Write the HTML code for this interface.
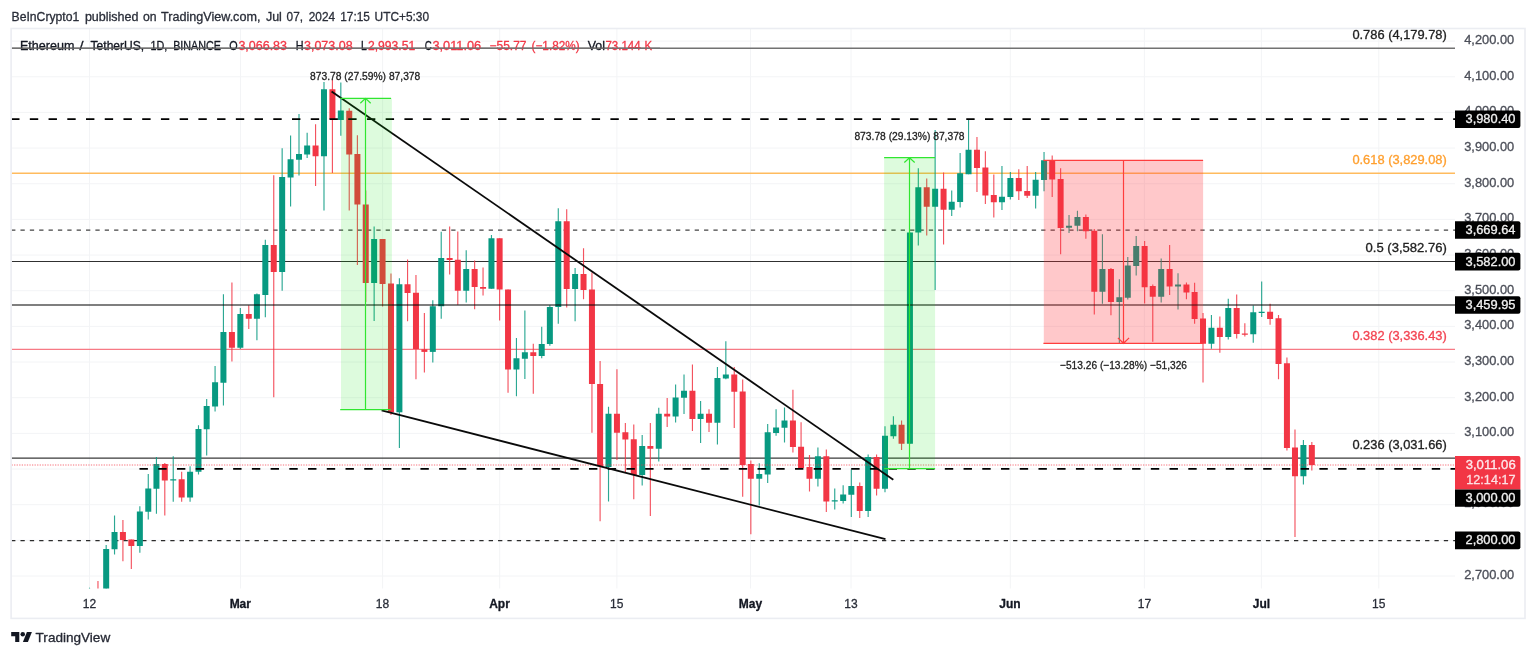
<!DOCTYPE html>
<html lang="en"><head><meta charset="utf-8"><title>ETHUSDT 1D chart</title>
<style>html,body{margin:0;padding:0;background:#fff;}body{width:1536px;height:656px;overflow:hidden;font-family:"Liberation Sans", "DejaVu Sans", sans-serif;}svg{display:block}text{white-space:pre;stroke-width:0.3px;stroke-linejoin:round}</style>
</head><body>
<svg width="1536" height="656" viewBox="0 0 1536 656" font-family='"Liberation Sans", "DejaVu Sans", sans-serif'>
<rect width="1536" height="656" fill="#fff"/>
<defs><clipPath id="plot"><rect x="11.5" y="28.5" width="1443.5" height="560"/></clipPath></defs>
<g id="grid" stroke="#f3f4f6" stroke-width="1">
<line x1="11.5" x2="1455.0" y1="576" y2="576"/>
<line x1="11.5" x2="1455.0" y1="540.34" y2="540.34"/>
<line x1="11.5" x2="1455.0" y1="504.68" y2="504.68"/>
<line x1="11.5" x2="1455.0" y1="469.02" y2="469.02"/>
<line x1="11.5" x2="1455.0" y1="433.36" y2="433.36"/>
<line x1="11.5" x2="1455.0" y1="397.7" y2="397.7"/>
<line x1="11.5" x2="1455.0" y1="362.04" y2="362.04"/>
<line x1="11.5" x2="1455.0" y1="326.38" y2="326.38"/>
<line x1="11.5" x2="1455.0" y1="290.72" y2="290.72"/>
<line x1="11.5" x2="1455.0" y1="255.06" y2="255.06"/>
<line x1="11.5" x2="1455.0" y1="219.4" y2="219.4"/>
<line x1="11.5" x2="1455.0" y1="183.74" y2="183.74"/>
<line x1="11.5" x2="1455.0" y1="148.08" y2="148.08"/>
<line x1="11.5" x2="1455.0" y1="112.42" y2="112.42"/>
<line x1="11.5" x2="1455.0" y1="76.76" y2="76.76"/>
<line x1="11.5" x2="1455.0" y1="41.1" y2="41.1"/>
<line x1="89.5" x2="89.5" y1="28.5" y2="588.5"/>
<line x1="240.5" x2="240.5" y1="28.5" y2="588.5"/>
<line x1="382.6" x2="382.6" y1="28.5" y2="588.5"/>
<line x1="499.7" x2="499.7" y1="28.5" y2="588.5"/>
<line x1="616.9" x2="616.9" y1="28.5" y2="588.5"/>
<line x1="750.5" x2="750.5" y1="28.5" y2="588.5"/>
<line x1="851" x2="851" y1="28.5" y2="588.5"/>
<line x1="1010.3" x2="1010.3" y1="28.5" y2="588.5"/>
<line x1="1144.4" x2="1144.4" y1="28.5" y2="588.5"/>
<line x1="1261.4" x2="1261.4" y1="28.5" y2="588.5"/>
<line x1="1378.8" x2="1378.8" y1="28.5" y2="588.5"/>
</g>
<g id="levels" clip-path="url(#plot)" fill="none">
<line x1="11.5" x2="1455.0" y1="48.15" y2="48.15" stroke="#727272" stroke-width="1.5"/>
<line x1="11.5" x2="1455.0" y1="173.3" y2="173.3" stroke="#ffbb5e" stroke-width="1.4"/>
<line x1="11.5" x2="1455.0" y1="261.5" y2="261.5" stroke="#303030" stroke-width="1.0"/>
<line x1="11.5" x2="1455.0" y1="349.4" y2="349.4" stroke="#f77a85" stroke-width="1.35"/>
<line x1="11.5" x2="1455.0" y1="458.08" y2="458.08" stroke="#3a3a3a" stroke-width="1.25"/>
<line x1="11.1" x2="1455.0" y1="230.1" y2="230.1" stroke="#444" stroke-width="1.2" stroke-dasharray="4.3 5.0642"/>
<line x1="11.1" x2="1455.0" y1="540.6" y2="540.6" stroke="#2b2b2b" stroke-width="1.15" stroke-dasharray="4.3 5.0642"/>
</g>
<g id="candles" clip-path="url(#plot)">
<path d="M89.52 587.7V600" stroke="#089981" stroke-width="1.15" opacity="0.85"/><rect x="86.52" y="590.6" width="6" height="9.4" fill="#089981"/>
<path d="M97.97 581V600" stroke="#f23645" stroke-width="1.15" opacity="0.85"/><rect x="94.97" y="590.6" width="6" height="6.4" fill="#f23645"/>
<path d="M106.18 545V600" stroke="#089981" stroke-width="1.15" opacity="0.85"/><rect x="103.18" y="549" width="6" height="51" fill="#089981"/>
<path d="M114.53 515.5V554.5" stroke="#089981" stroke-width="1.15" opacity="0.85"/><rect x="111.53" y="532" width="6" height="17.25" fill="#089981"/>
<path d="M122.91 520V561.25" stroke="#f23645" stroke-width="1.15" opacity="0.85"/><rect x="119.91" y="532" width="6" height="8" fill="#f23645"/>
<path d="M131.33 539.5V569" stroke="#f23645" stroke-width="1.15" opacity="0.85"/><rect x="128.33" y="539.5" width="6" height="6.5" fill="#f23645"/>
<path d="M139.85 506.25V552.75" stroke="#089981" stroke-width="1.15" opacity="0.85"/><rect x="136.85" y="511.5" width="6" height="34.5" fill="#089981"/>
<path d="M148.27 474V519.5" stroke="#089981" stroke-width="1.15" opacity="0.85"/><rect x="145.27" y="488.5" width="6" height="23.25" fill="#089981"/>
<path d="M156.44 457V513.75" stroke="#089981" stroke-width="1.15" opacity="0.85"/><rect x="153.44" y="464" width="6" height="24.75" fill="#089981"/>
<path d="M164.79 463V515.5" stroke="#f23645" stroke-width="1.15" opacity="0.85"/><rect x="161.79" y="464" width="6" height="16.5" fill="#f23645"/>
<path d="M173.24 456.25V501.75" stroke="#089981" stroke-width="1.15" opacity="0.85"/><rect x="170.24" y="479.25" width="6" height="1.25" fill="#089981"/>
<path d="M181.66 471.75V501.75" stroke="#f23645" stroke-width="1.15" opacity="0.85"/><rect x="178.66" y="479.25" width="6" height="18.25" fill="#f23645"/>
<path d="M190.08 466.25V501.75" stroke="#089981" stroke-width="1.15" opacity="0.85"/><rect x="187.08" y="471.75" width="6" height="25.75" fill="#089981"/>
<path d="M198.49 425.25V474.5" stroke="#089981" stroke-width="1.15" opacity="0.85"/><rect x="195.49" y="429" width="6" height="42.75" fill="#089981"/>
<path d="M206.67 399V455.5" stroke="#089981" stroke-width="1.15" opacity="0.85"/><rect x="203.67" y="406" width="6" height="23.25" fill="#089981"/>
<path d="M215.08 366V411.5" stroke="#089981" stroke-width="1.15" opacity="0.85"/><rect x="212.08" y="382.25" width="6" height="24.25" fill="#089981"/>
<path d="M223.43 294.25V405.5" stroke="#089981" stroke-width="1.15" opacity="0.85"/><rect x="220.43" y="332" width="6" height="50.75" fill="#089981"/>
<path d="M231.92 282.5V361.5" stroke="#f23645" stroke-width="1.15" opacity="0.85"/><rect x="228.92" y="332" width="6" height="15.75" fill="#f23645"/>
<path d="M240.34 308V349" stroke="#089981" stroke-width="1.15" opacity="0.85"/><rect x="237.34" y="314" width="6" height="33.75" fill="#089981"/>
<path d="M248.76 305.25V329" stroke="#f23645" stroke-width="1.15" opacity="0.85"/><rect x="245.76" y="314" width="6" height="4.75" fill="#f23645"/>
<path d="M256.91 293.5V340.25" stroke="#089981" stroke-width="1.15" opacity="0.85"/><rect x="253.91" y="294.25" width="6" height="24.5" fill="#089981"/>
<path d="M265.33 239.75V317.25" stroke="#089981" stroke-width="1.15" opacity="0.85"/><rect x="262.33" y="245" width="6" height="50" fill="#089981"/>
<path d="M273.75 175.25V397.25" stroke="#f23645" stroke-width="1.15" opacity="0.85"/><rect x="270.75" y="245" width="6" height="27" fill="#f23645"/>
<path d="M282.16 148.25V290.75" stroke="#089981" stroke-width="1.15" opacity="0.85"/><rect x="279.16" y="177" width="6" height="95" fill="#089981"/>
<path d="M290.58 135.5V206.5" stroke="#089981" stroke-width="1.15" opacity="0.85"/><rect x="287.58" y="159.25" width="6" height="18.25" fill="#089981"/>
<path d="M299 114V175.5" stroke="#089981" stroke-width="1.15" opacity="0.85"/><rect x="296" y="154" width="6" height="5.75" fill="#089981"/>
<path d="M307.15 132.75V158" stroke="#089981" stroke-width="1.15" opacity="0.85"/><rect x="304.15" y="145.5" width="6" height="9" fill="#089981"/>
<path d="M315.57 124.25V186" stroke="#f23645" stroke-width="1.15" opacity="0.85"/><rect x="312.57" y="145.5" width="6" height="10.75" fill="#f23645"/>
<path d="M323.99 82V210.5" stroke="#089981" stroke-width="1.15" opacity="0.85"/><rect x="320.99" y="89.25" width="6" height="67" fill="#089981"/>
<path d="M332.41 79.5V173" stroke="#f23645" stroke-width="1.15" opacity="0.85"/><rect x="329.41" y="89.25" width="6" height="29.75" fill="#f23645"/>
<path d="M340.82 82.5V135.75" stroke="#089981" stroke-width="1.15" opacity="0.85"/><rect x="337.82" y="110.5" width="6" height="9.5" fill="#089981"/>
<path d="M349.24 108.25V210.5" stroke="#f23645" stroke-width="1.15" opacity="0.85"/><rect x="346.24" y="110.75" width="6" height="43.75" fill="#f23645"/>
<path d="M357.4 135.25V265" stroke="#f23645" stroke-width="1.15" opacity="0.85"/><rect x="354.4" y="154" width="6" height="50.5" fill="#f23645"/>
<path d="M365.73 190.5V302" stroke="#f23645" stroke-width="1.15" opacity="0.85"/><rect x="362.73" y="204.5" width="6" height="78.5" fill="#f23645"/>
<path d="M374.14 226.5V321" stroke="#089981" stroke-width="1.15" opacity="0.85"/><rect x="371.14" y="239" width="6" height="44" fill="#089981"/>
<path d="M382.56 239V306.5" stroke="#f23645" stroke-width="1.15" opacity="0.85"/><rect x="379.56" y="239" width="6" height="45" fill="#f23645"/>
<path d="M390.98 273.5V415" stroke="#f23645" stroke-width="1.15" opacity="0.85"/><rect x="387.98" y="283.5" width="6" height="128.8" fill="#f23645"/>
<path d="M399.4 278.25V448" stroke="#089981" stroke-width="1.15" opacity="0.85"/><rect x="396.4" y="284.25" width="6" height="128.05" fill="#089981"/>
<path d="M407.55 259.5V321.25" stroke="#f23645" stroke-width="1.15" opacity="0.85"/><rect x="404.55" y="284.25" width="6" height="8.75" fill="#f23645"/>
<path d="M415.97 275V379.25" stroke="#f23645" stroke-width="1.15" opacity="0.85"/><rect x="412.97" y="292.75" width="6" height="56.25" fill="#f23645"/>
<path d="M424.39 313V372.5" stroke="#f23645" stroke-width="1.15" opacity="0.85"/><rect x="421.39" y="349.3" width="6" height="2.6" fill="#f23645"/>
<path d="M432.8 300.25V362.5" stroke="#089981" stroke-width="1.15" opacity="0.85"/><rect x="429.8" y="306.25" width="6" height="45.65" fill="#089981"/>
<path d="M441.22 231.75V318.75" stroke="#089981" stroke-width="1.15" opacity="0.85"/><rect x="438.22" y="258" width="6" height="48.25" fill="#089981"/>
<path d="M449.64 226.5V274.5" stroke="#f23645" stroke-width="1.15" opacity="0.85"/><rect x="446.64" y="258" width="6" height="2" fill="#f23645"/>
<path d="M457.79 231.5V304.75" stroke="#f23645" stroke-width="1.15" opacity="0.85"/><rect x="454.79" y="259.75" width="6" height="31" fill="#f23645"/>
<path d="M466.21 250.25V302.5" stroke="#089981" stroke-width="1.15" opacity="0.85"/><rect x="463.21" y="269" width="6" height="21.75" fill="#089981"/>
<path d="M474.63 260.5V309.25" stroke="#f23645" stroke-width="1.15" opacity="0.85"/><rect x="471.63" y="269" width="6" height="18" fill="#f23645"/>
<path d="M483.05 267.5V295.5" stroke="#f23645" stroke-width="1.15" opacity="0.85"/><rect x="480.05" y="287" width="6" height="1.75" fill="#f23645"/>
<path d="M491.46 235V288.75" stroke="#089981" stroke-width="1.15" opacity="0.85"/><rect x="488.46" y="238.25" width="6" height="50.5" fill="#089981"/>
<path d="M499.62 238.25V320.5" stroke="#f23645" stroke-width="1.15" opacity="0.85"/><rect x="496.62" y="238.25" width="6" height="51.25" fill="#f23645"/>
<path d="M508.04 289.5V392.75" stroke="#f23645" stroke-width="1.15" opacity="0.85"/><rect x="505.04" y="289.5" width="6" height="80" fill="#f23645"/>
<path d="M516.45 338V396.25" stroke="#089981" stroke-width="1.15" opacity="0.85"/><rect x="513.45" y="358.25" width="6" height="11.25" fill="#089981"/>
<path d="M524.87 310.5V379" stroke="#089981" stroke-width="1.15" opacity="0.85"/><rect x="521.87" y="352.25" width="6" height="6.5" fill="#089981"/>
<path d="M533.29 343.75V393.75" stroke="#f23645" stroke-width="1.15" opacity="0.85"/><rect x="530.29" y="352.25" width="6" height="3.75" fill="#f23645"/>
<path d="M541.71 326.75V358.25" stroke="#089981" stroke-width="1.15" opacity="0.85"/><rect x="538.71" y="344" width="6" height="12" fill="#089981"/>
<path d="M549.86 305.25V345.75" stroke="#089981" stroke-width="1.15" opacity="0.85"/><rect x="546.86" y="307" width="6" height="37" fill="#089981"/>
<path d="M558.28 208.25V323.75" stroke="#089981" stroke-width="1.15" opacity="0.85"/><rect x="555.28" y="221.25" width="6" height="85.75" fill="#089981"/>
<path d="M566.7 209.25V307.5" stroke="#f23645" stroke-width="1.15" opacity="0.85"/><rect x="563.7" y="221.25" width="6" height="67.75" fill="#f23645"/>
<path d="M575.11 268V321.25" stroke="#089981" stroke-width="1.15" opacity="0.85"/><rect x="572.11" y="274" width="6" height="15" fill="#089981"/>
<path d="M583.53 248.25V299.25" stroke="#f23645" stroke-width="1.15" opacity="0.85"/><rect x="580.53" y="274" width="6" height="16" fill="#f23645"/>
<path d="M591.95 272.5V432.75" stroke="#f23645" stroke-width="1.15" opacity="0.85"/><rect x="588.95" y="289.5" width="6" height="94.5" fill="#f23645"/>
<path d="M600.1 361V521.25" stroke="#f23645" stroke-width="1.15" opacity="0.85"/><rect x="597.1" y="384" width="6" height="82.25" fill="#f23645"/>
<path d="M608.52 406.75V501.5" stroke="#089981" stroke-width="1.15" opacity="0.85"/><rect x="605.52" y="413.75" width="6" height="53.25" fill="#089981"/>
<path d="M616.94 369.25V460" stroke="#f23645" stroke-width="1.15" opacity="0.85"/><rect x="613.94" y="413.75" width="6" height="19" fill="#f23645"/>
<path d="M625.36 423V472.75" stroke="#f23645" stroke-width="1.15" opacity="0.85"/><rect x="622.36" y="432.25" width="6" height="7.25" fill="#f23645"/>
<path d="M633.77 424.5V499.25" stroke="#f23645" stroke-width="1.15" opacity="0.85"/><rect x="630.77" y="439.25" width="6" height="35.75" fill="#f23645"/>
<path d="M642.19 435V485.5" stroke="#089981" stroke-width="1.15" opacity="0.85"/><rect x="639.19" y="446" width="6" height="29" fill="#089981"/>
<path d="M650.35 423V516" stroke="#f23645" stroke-width="1.15" opacity="0.85"/><rect x="647.35" y="446" width="6" height="2.75" fill="#f23645"/>
<path d="M658.76 407.75V461.5" stroke="#089981" stroke-width="1.15" opacity="0.85"/><rect x="655.76" y="413.75" width="6" height="35" fill="#089981"/>
<path d="M667.18 398V427" stroke="#f23645" stroke-width="1.15" opacity="0.85"/><rect x="664.18" y="413.75" width="6" height="2.75" fill="#f23645"/>
<path d="M675.6 384.5V422.5" stroke="#089981" stroke-width="1.15" opacity="0.85"/><rect x="672.6" y="397.5" width="6" height="19" fill="#089981"/>
<path d="M684.02 374.5V414" stroke="#089981" stroke-width="1.15" opacity="0.85"/><rect x="681.02" y="390.75" width="6" height="7" fill="#089981"/>
<path d="M692.43 364.5V431" stroke="#f23645" stroke-width="1.15" opacity="0.85"/><rect x="689.43" y="390.75" width="6" height="28.25" fill="#f23645"/>
<path d="M700.59 401V443" stroke="#089981" stroke-width="1.15" opacity="0.85"/><rect x="697.59" y="413.75" width="6" height="5.25" fill="#089981"/>
<path d="M709.01 409.25V432" stroke="#f23645" stroke-width="1.15" opacity="0.85"/><rect x="706.01" y="413.75" width="6" height="9" fill="#f23645"/>
<path d="M717.42 367V444.5" stroke="#089981" stroke-width="1.15" opacity="0.85"/><rect x="714.42" y="378" width="6" height="44.75" fill="#089981"/>
<path d="M725.84 341.25V379.25" stroke="#089981" stroke-width="1.15" opacity="0.85"/><rect x="722.84" y="374.5" width="6" height="4" fill="#089981"/>
<path d="M734.26 367V428" stroke="#f23645" stroke-width="1.15" opacity="0.85"/><rect x="731.26" y="374.5" width="6" height="17.25" fill="#f23645"/>
<path d="M742.68 379.5V496.75" stroke="#f23645" stroke-width="1.15" opacity="0.85"/><rect x="739.68" y="391.5" width="6" height="73.5" fill="#f23645"/>
<path d="M750.83 460.5V534.25" stroke="#f23645" stroke-width="1.15" opacity="0.85"/><rect x="747.83" y="464" width="6" height="14.75" fill="#f23645"/>
<path d="M759.25 463.25V505.5" stroke="#089981" stroke-width="1.15" opacity="0.85"/><rect x="756.25" y="474" width="6" height="4.75" fill="#089981"/>
<path d="M767.67 424V483" stroke="#089981" stroke-width="1.15" opacity="0.85"/><rect x="764.67" y="432.25" width="6" height="42.25" fill="#089981"/>
<path d="M776.08 409.25V435.75" stroke="#089981" stroke-width="1.15" opacity="0.85"/><rect x="773.08" y="427.5" width="6" height="5.5" fill="#089981"/>
<path d="M784.5 407.5V442.5" stroke="#089981" stroke-width="1.15" opacity="0.85"/><rect x="781.5" y="420.5" width="6" height="7.25" fill="#089981"/>
<path d="M792.92 389.75V452.5" stroke="#f23645" stroke-width="1.15" opacity="0.85"/><rect x="789.92" y="420.5" width="6" height="26.5" fill="#f23645"/>
<path d="M801.07 422.25V468.5" stroke="#f23645" stroke-width="1.15" opacity="0.85"/><rect x="798.07" y="446.75" width="6" height="21.25" fill="#f23645"/>
<path d="M809.49 455V491.5" stroke="#f23645" stroke-width="1.15" opacity="0.85"/><rect x="806.49" y="467" width="6" height="11.75" fill="#f23645"/>
<path d="M817.91 447.5V486.5" stroke="#089981" stroke-width="1.15" opacity="0.85"/><rect x="814.91" y="456.25" width="6" height="22.5" fill="#089981"/>
<path d="M826.33 449.5V512" stroke="#f23645" stroke-width="1.15" opacity="0.85"/><rect x="823.33" y="456.25" width="6" height="45.25" fill="#f23645"/>
<path d="M834.74 488.5V509.5" stroke="#089981" stroke-width="1.15" opacity="0.85"/><rect x="831.74" y="500.25" width="6" height="1.25" fill="#089981"/>
<path d="M843.16 485.25V503.5" stroke="#089981" stroke-width="1.15" opacity="0.85"/><rect x="840.16" y="494.5" width="6" height="6.5" fill="#089981"/>
<path d="M851.32 469.5V517" stroke="#089981" stroke-width="1.15" opacity="0.85"/><rect x="848.32" y="486" width="6" height="8.75" fill="#089981"/>
<path d="M859.73 482.5V518" stroke="#f23645" stroke-width="1.15" opacity="0.85"/><rect x="856.73" y="486" width="6" height="25" fill="#f23645"/>
<path d="M868.15 454.5V517" stroke="#089981" stroke-width="1.15" opacity="0.85"/><rect x="865.15" y="457" width="6" height="54" fill="#089981"/>
<path d="M876.57 454.5V495.5" stroke="#f23645" stroke-width="1.15" opacity="0.85"/><rect x="873.57" y="457" width="6" height="31.75" fill="#f23645"/>
<path d="M884.99 426.25V492.25" stroke="#089981" stroke-width="1.15" opacity="0.85"/><rect x="881.99" y="435.75" width="6" height="53" fill="#089981"/>
<path d="M893.4 416.25V438.75" stroke="#089981" stroke-width="1.15" opacity="0.85"/><rect x="890.4" y="424.75" width="6" height="11.5" fill="#089981"/>
<path d="M901.56 420.5V450" stroke="#f23645" stroke-width="1.15" opacity="0.85"/><rect x="898.56" y="424.75" width="6" height="19" fill="#f23645"/>
<path d="M909.92 232.5V443.75" stroke="#089981" stroke-width="1.15" opacity="0.85"/><rect x="906.92" y="232.5" width="6" height="211.25" fill="#089981"/>
<path d="M918.31 168.25V245.5" stroke="#089981" stroke-width="1.15" opacity="0.85"/><rect x="915.31" y="187.25" width="6" height="45.25" fill="#089981"/>
<path d="M926.72 178.5V235.5" stroke="#f23645" stroke-width="1.15" opacity="0.85"/><rect x="923.72" y="187.25" width="6" height="19.5" fill="#f23645"/>
<path d="M935.14 130V290" stroke="#089981" stroke-width="1.15" opacity="0.85"/><rect x="932.14" y="188.75" width="6" height="18" fill="#089981"/>
<path d="M943.56 172.5V244.5" stroke="#f23645" stroke-width="1.15" opacity="0.85"/><rect x="940.56" y="188.75" width="6" height="21" fill="#f23645"/>
<path d="M951.71 190.5V216" stroke="#089981" stroke-width="1.15" opacity="0.85"/><rect x="948.71" y="201.75" width="6" height="8" fill="#089981"/>
<path d="M960.13 153V207.5" stroke="#089981" stroke-width="1.15" opacity="0.85"/><rect x="957.13" y="173.25" width="6" height="28.75" fill="#089981"/>
<path d="M968.55 119V174.25" stroke="#089981" stroke-width="1.15" opacity="0.85"/><rect x="965.55" y="149.75" width="6" height="24.5" fill="#089981"/>
<path d="M976.97 137V192" stroke="#f23645" stroke-width="1.15" opacity="0.85"/><rect x="973.97" y="149.75" width="6" height="18.25" fill="#f23645"/>
<path d="M985.38 151.25V204" stroke="#f23645" stroke-width="1.15" opacity="0.85"/><rect x="982.38" y="167.5" width="6" height="28" fill="#f23645"/>
<path d="M993.8 174.5V217.5" stroke="#f23645" stroke-width="1.15" opacity="0.85"/><rect x="990.8" y="195" width="6" height="7.25" fill="#f23645"/>
<path d="M1001.96 166V210" stroke="#089981" stroke-width="1.15" opacity="0.85"/><rect x="998.96" y="196.75" width="6" height="5.5" fill="#089981"/>
<path d="M1010.37 172V199.5" stroke="#089981" stroke-width="1.15" opacity="0.85"/><rect x="1007.37" y="178" width="6" height="19" fill="#089981"/>
<path d="M1018.79 169.25V200" stroke="#f23645" stroke-width="1.15" opacity="0.85"/><rect x="1015.79" y="178" width="6" height="13.25" fill="#f23645"/>
<path d="M1027.21 166V198" stroke="#f23645" stroke-width="1.15" opacity="0.85"/><rect x="1024.21" y="191" width="6" height="4.75" fill="#f23645"/>
<path d="M1035.63 172V208.5" stroke="#089981" stroke-width="1.15" opacity="0.85"/><rect x="1032.63" y="179.75" width="6" height="16" fill="#089981"/>
<path d="M1044.04 152V191.25" stroke="#089981" stroke-width="1.15" opacity="0.85"/><rect x="1041.04" y="160.25" width="6" height="19.75" fill="#089981"/>
<path d="M1052.2 155.5V197" stroke="#f23645" stroke-width="1.15" opacity="0.85"/><rect x="1049.2" y="160.25" width="6" height="19.25" fill="#f23645"/>
<path d="M1060.62 168.25V254.25" stroke="#f23645" stroke-width="1.15" opacity="0.85"/><rect x="1057.62" y="179" width="6" height="49" fill="#f23645"/>
<path d="M1069.03 215V233" stroke="#089981" stroke-width="1.15" opacity="0.85"/><rect x="1066.03" y="225.75" width="6" height="2" fill="#089981"/>
<path d="M1077.45 210.75V231.25" stroke="#089981" stroke-width="1.15" opacity="0.85"/><rect x="1074.45" y="217" width="6" height="8.75" fill="#089981"/>
<path d="M1085.87 214.5V238.75" stroke="#f23645" stroke-width="1.15" opacity="0.85"/><rect x="1082.87" y="217" width="6" height="14.25" fill="#f23645"/>
<path d="M1094.29 229V314.5" stroke="#f23645" stroke-width="1.15" opacity="0.85"/><rect x="1091.29" y="230.75" width="6" height="61" fill="#f23645"/>
<path d="M1102.44 234.25V303.75" stroke="#089981" stroke-width="1.15" opacity="0.85"/><rect x="1099.44" y="269" width="6" height="22.75" fill="#089981"/>
<path d="M1110.95 268V315.25" stroke="#f23645" stroke-width="1.15" opacity="0.85"/><rect x="1107.95" y="269" width="6" height="33" fill="#f23645"/>
<path d="M1119.36 279.25V343.25" stroke="#089981" stroke-width="1.15" opacity="0.85"/><rect x="1116.36" y="297.25" width="6" height="4.75" fill="#089981"/>
<path d="M1127.78 257V299.5" stroke="#089981" stroke-width="1.15" opacity="0.85"/><rect x="1124.78" y="265.5" width="6" height="32.25" fill="#089981"/>
<path d="M1136.2 236V275.5" stroke="#089981" stroke-width="1.15" opacity="0.85"/><rect x="1133.2" y="246" width="6" height="20" fill="#089981"/>
<path d="M1144.62 241V303.5" stroke="#f23645" stroke-width="1.15" opacity="0.85"/><rect x="1141.62" y="246" width="6" height="41.25" fill="#f23645"/>
<path d="M1152.77 284.5V341.75" stroke="#f23645" stroke-width="1.15" opacity="0.85"/><rect x="1149.77" y="286" width="6" height="10.75" fill="#f23645"/>
<path d="M1161.19 258.5V302.5" stroke="#089981" stroke-width="1.15" opacity="0.85"/><rect x="1158.19" y="269" width="6" height="27.75" fill="#089981"/>
<path d="M1169.61 245V295" stroke="#f23645" stroke-width="1.15" opacity="0.85"/><rect x="1166.61" y="269" width="6" height="17.5" fill="#f23645"/>
<path d="M1178.02 273.25V309.5" stroke="#089981" stroke-width="1.15" opacity="0.85"/><rect x="1175.02" y="284.5" width="6" height="2" fill="#089981"/>
<path d="M1186.44 282.5V299.25" stroke="#f23645" stroke-width="1.15" opacity="0.85"/><rect x="1183.44" y="284.5" width="6" height="8" fill="#f23645"/>
<path d="M1194.6 282.75V323.75" stroke="#f23645" stroke-width="1.15" opacity="0.85"/><rect x="1191.6" y="292" width="6" height="27" fill="#f23645"/>
<path d="M1203.01 313V382.5" stroke="#f23645" stroke-width="1.15" opacity="0.85"/><rect x="1200.01" y="318.5" width="6" height="25.25" fill="#f23645"/>
<path d="M1211.43 315V348.75" stroke="#089981" stroke-width="1.15" opacity="0.85"/><rect x="1208.43" y="327.75" width="6" height="16" fill="#089981"/>
<path d="M1219.85 316.5V352.75" stroke="#f23645" stroke-width="1.15" opacity="0.85"/><rect x="1216.85" y="327.75" width="6" height="9.25" fill="#f23645"/>
<path d="M1228.27 298.75V339.5" stroke="#089981" stroke-width="1.15" opacity="0.85"/><rect x="1225.27" y="308" width="6" height="29" fill="#089981"/>
<path d="M1236.68 294.5V338.5" stroke="#f23645" stroke-width="1.15" opacity="0.85"/><rect x="1233.68" y="308" width="6" height="26" fill="#f23645"/>
<path d="M1244.84 323.25V336.5" stroke="#f23645" stroke-width="1.15" opacity="0.85"/><rect x="1241.84" y="333.5" width="6" height="1.25" fill="#f23645"/>
<path d="M1253.26 305.5V342.75" stroke="#089981" stroke-width="1.15" opacity="0.85"/><rect x="1250.26" y="312.25" width="6" height="22" fill="#089981"/>
<path d="M1261.67 281.5V317" stroke="#089981" stroke-width="1.15" opacity="0.85"/><rect x="1258.67" y="311.75" width="6" height="1.25" fill="#089981"/>
<path d="M1270.09 303.75V324.75" stroke="#f23645" stroke-width="1.15" opacity="0.85"/><rect x="1267.09" y="311.75" width="6" height="7.25" fill="#f23645"/>
<path d="M1278.51 315V379.25" stroke="#f23645" stroke-width="1.15" opacity="0.85"/><rect x="1275.51" y="318.25" width="6" height="45.75" fill="#f23645"/>
<path d="M1286.93 357.5V450.5" stroke="#f23645" stroke-width="1.15" opacity="0.85"/><rect x="1283.93" y="363.25" width="6" height="84.75" fill="#f23645"/>
<path d="M1294.99 429.5V537" stroke="#f23645" stroke-width="1.15" opacity="0.85"/><rect x="1291.99" y="447.5" width="6" height="28.75" fill="#f23645"/>
<path d="M1303.41 440V484.5" stroke="#089981" stroke-width="1.15" opacity="0.85"/><rect x="1300.41" y="445" width="6" height="31.25" fill="#089981"/>
<path d="M1311.83 442V470.5" stroke="#f23645" stroke-width="1.15" opacity="0.85"/><rect x="1308.83" y="445" width="6" height="20" fill="#f23645"/>
</g>
<g id="drawings" clip-path="url(#plot)" fill="none">
<line x1="11.5" x2="1455.0" y1="304.93" y2="304.93" stroke="#000" stroke-opacity="0.5" stroke-width="1.9"/>
<line x1="11.1" x2="1455.0" y1="119.05" y2="119.05" stroke="#000" stroke-width="1.75" stroke-dasharray="8.4 10.3284"/>
<line x1="139.5" x2="1455.0" y1="468.75" y2="468.75" stroke="#000" stroke-width="1.75" stroke-dasharray="8.4 10.3284"/>
<line x1="11.5" x2="1455.0" y1="465" y2="465" stroke="#f23645" stroke-width="1" stroke-dasharray="1.28 1.28" opacity="0.7"/>
<path d="M331.6 91.4L893.3 479.8" stroke="#0a0a0a" stroke-width="1.8" stroke-linecap="butt"/>
<path d="M381.6 410.45L885.5 539.2" stroke="#0a0a0a" stroke-width="1.75" stroke-linecap="butt"/>
<rect x="341" y="98" width="50.9" height="311.5" fill="#00e000" fill-opacity="0.135"/>
<path d="M340.2 98.4H391M340.2 409.6H391M365.5 409.6V98.4M360.3 103.2L365.5 98.4L370.7 103.2" stroke="#30e630" stroke-width="1.2"/>
<rect x="884.1" y="157.7" width="51" height="311" fill="#00e000" fill-opacity="0.135"/>
<path d="M884.1 157.7H935.1M884.1 468.7H935.1M909.5 468.7V157.7M904.3 162.5L909.5 157.7L914.7 162.5" stroke="#30e630" stroke-width="1.2"/>
<rect x="1043.8" y="160.3" width="159.3" height="183" fill="#ff3038" fill-opacity="0.265"/>
<path d="M1043.4 160.4H1203.1M1043.4 343.3H1203.1M1123.5 160.4V343.3M1117.9 337.9L1123.5 343.3L1129.1 337.9" stroke="#ff3d3d" stroke-width="1.2"/>
</g>
<g id="labels">
<text x="1446.8" y="38.8" font-size="12" fill="#222" stroke="#222" text-anchor="end" font-weight="normal" textLength="94.4" lengthAdjust="spacingAndGlyphs">0.786 (4,179.78)</text>
<text x="1446.8" y="164.4" font-size="12" fill="#ff9f2e" stroke="#ff9f2e" text-anchor="end" font-weight="normal" textLength="94.4" lengthAdjust="spacingAndGlyphs">0.618 (3,829.08)</text>
<text x="1446.8" y="251.8" font-size="12" fill="#222" stroke="#222" text-anchor="end" font-weight="normal" textLength="81.3" lengthAdjust="spacingAndGlyphs">0.5 (3,582.76)</text>
<text x="1446.8" y="339.6" font-size="12" fill="#f34452" stroke="#f34452" text-anchor="end" font-weight="normal" textLength="94.4" lengthAdjust="spacingAndGlyphs">0.382 (3,336.43)</text>
<text x="1446.8" y="448.8" font-size="12" fill="#222" stroke="#222" text-anchor="end" font-weight="normal" textLength="94.4" lengthAdjust="spacingAndGlyphs">0.236 (3,031.66)</text>
<text x="365.2" y="80.1" font-size="11" fill="#222" stroke="#222" text-anchor="middle" font-weight="normal" textLength="110.2" lengthAdjust="spacingAndGlyphs">873.78 (27.59%) 87,378</text>
<text x="909.5" y="140" font-size="11" fill="#222" stroke="#222" text-anchor="middle" font-weight="normal" textLength="110.2" lengthAdjust="spacingAndGlyphs">873.78 (29.13%) 87,378</text>
<text x="1123.5" y="369.1" font-size="11" fill="#222" stroke="#222" text-anchor="middle" font-weight="normal" textLength="127" lengthAdjust="spacingAndGlyphs">−513.26 (−13.28%) −51,326</text>
</g>
<g id="legend">
<text y="49.9" font-size="12.2" fill="#131722" stroke="#131722"><tspan x="19.9" textLength="54.5" lengthAdjust="spacingAndGlyphs">Ethereum</tspan> <tspan x="79.4" textLength="4" lengthAdjust="spacingAndGlyphs">/</tspan> <tspan x="90.6" textLength="53.6" lengthAdjust="spacingAndGlyphs">TetherUS,</tspan> <tspan x="150.5" textLength="16.8" lengthAdjust="spacingAndGlyphs">1D,</tspan> <tspan x="173.2" textLength="47.8" lengthAdjust="spacingAndGlyphs">BINANCE</tspan></text>
<text x="229.3" y="49.9" font-size="12.2" fill="#131722" stroke="#131722" text-anchor="start" font-weight="normal" textLength="8.4" lengthAdjust="spacingAndGlyphs">O</text>
<text x="238.4" y="49.9" font-size="12.2" fill="#f23645" stroke="#f23645" text-anchor="start" font-weight="normal" textLength="48.6" lengthAdjust="spacingAndGlyphs">3,066.83</text>
<text x="295.7" y="49.9" font-size="12.2" fill="#131722" stroke="#131722" text-anchor="start" font-weight="normal" textLength="7.8" lengthAdjust="spacingAndGlyphs">H</text>
<text x="304" y="49.9" font-size="12.2" fill="#f23645" stroke="#f23645" text-anchor="start" font-weight="normal" textLength="48.6" lengthAdjust="spacingAndGlyphs">3,073.08</text>
<text x="361" y="49.9" font-size="12.2" fill="#131722" stroke="#131722" text-anchor="start" font-weight="normal" textLength="5.8" lengthAdjust="spacingAndGlyphs">L</text>
<text x="368" y="49.9" font-size="12.2" fill="#f23645" stroke="#f23645" text-anchor="start" font-weight="normal" textLength="47.2" lengthAdjust="spacingAndGlyphs">2,993.51</text>
<text x="424.7" y="49.9" font-size="12.2" fill="#131722" stroke="#131722" text-anchor="start" font-weight="normal" textLength="7" lengthAdjust="spacingAndGlyphs">C</text>
<text x="432.4" y="49.9" font-size="12.2" fill="#f23645" stroke="#f23645" text-anchor="start" font-weight="normal" textLength="48.8" lengthAdjust="spacingAndGlyphs">3,011.06</text>
<text y="49.9" font-size="12.2" fill="#f23645" stroke="#f23645"><tspan x="489.6" textLength="36.9" lengthAdjust="spacingAndGlyphs">−55.77</tspan> <tspan x="531.6" textLength="48" lengthAdjust="spacingAndGlyphs">(−1.82%)</tspan></text>
<text x="587.8" y="49.9" font-size="12.2" fill="#131722" stroke="#131722" text-anchor="start" font-weight="normal" textLength="17.2" lengthAdjust="spacingAndGlyphs">Vol</text>
<text y="49.9" font-size="12.2" fill="#f23645" stroke="#f23645"><tspan x="605.4" textLength="35.2" lengthAdjust="spacingAndGlyphs">73.144</tspan> <tspan x="644.6" textLength="7.6" lengthAdjust="spacingAndGlyphs">K</tspan></text>
<line x1="11.5" x2="660" y1="48.15" y2="48.15" stroke="#727272" stroke-width="1.5" opacity="0.75"/>
</g>
<text y="21" font-size="12.3" fill="#2a2e39" stroke="#2a2e39"><tspan x="11.5" textLength="67.8" lengthAdjust="spacingAndGlyphs">BeInCrypto1</tspan> <tspan x="84.9" textLength="53.6" lengthAdjust="spacingAndGlyphs">published</tspan> <tspan x="142.9" textLength="13.6" lengthAdjust="spacingAndGlyphs">on</tspan> <tspan x="161.1" textLength="99.3" lengthAdjust="spacingAndGlyphs">TradingView.com,</tspan> <tspan x="265.9" textLength="16" lengthAdjust="spacingAndGlyphs">Jul</tspan> <tspan x="286.6" textLength="16.4" lengthAdjust="spacingAndGlyphs">07,</tspan> <tspan x="308.8" textLength="26.3" lengthAdjust="spacingAndGlyphs">2024</tspan> <tspan x="340.3" textLength="29.6" lengthAdjust="spacingAndGlyphs">17:15</tspan> <tspan x="374.6" textLength="54.5" lengthAdjust="spacingAndGlyphs">UTC+5:30</tspan></text>
<g id="paxis">
<text x="1464.2" y="578.8" font-size="12" fill="#4c4f59" stroke="#4c4f59" text-anchor="start" font-weight="normal" textLength="50" lengthAdjust="spacingAndGlyphs" stroke-width="0.22">2,700.00</text>
<text x="1464.2" y="543.14" font-size="12" fill="#4c4f59" stroke="#4c4f59" text-anchor="start" font-weight="normal" textLength="50" lengthAdjust="spacingAndGlyphs" stroke-width="0.22">2,800.00</text>
<text x="1464.2" y="507.48" font-size="12" fill="#4c4f59" stroke="#4c4f59" text-anchor="start" font-weight="normal" textLength="50" lengthAdjust="spacingAndGlyphs" stroke-width="0.22">2,900.00</text>
<text x="1464.2" y="471.82" font-size="12" fill="#4c4f59" stroke="#4c4f59" text-anchor="start" font-weight="normal" textLength="50" lengthAdjust="spacingAndGlyphs" stroke-width="0.22">3,000.00</text>
<text x="1464.2" y="436.16" font-size="12" fill="#4c4f59" stroke="#4c4f59" text-anchor="start" font-weight="normal" textLength="50" lengthAdjust="spacingAndGlyphs" stroke-width="0.22">3,100.00</text>
<text x="1464.2" y="400.5" font-size="12" fill="#4c4f59" stroke="#4c4f59" text-anchor="start" font-weight="normal" textLength="50" lengthAdjust="spacingAndGlyphs" stroke-width="0.22">3,200.00</text>
<text x="1464.2" y="364.84" font-size="12" fill="#4c4f59" stroke="#4c4f59" text-anchor="start" font-weight="normal" textLength="50" lengthAdjust="spacingAndGlyphs" stroke-width="0.22">3,300.00</text>
<text x="1464.2" y="329.18" font-size="12" fill="#4c4f59" stroke="#4c4f59" text-anchor="start" font-weight="normal" textLength="50" lengthAdjust="spacingAndGlyphs" stroke-width="0.22">3,400.00</text>
<text x="1464.2" y="293.52" font-size="12" fill="#4c4f59" stroke="#4c4f59" text-anchor="start" font-weight="normal" textLength="50" lengthAdjust="spacingAndGlyphs" stroke-width="0.22">3,500.00</text>
<text x="1464.2" y="257.86" font-size="12" fill="#4c4f59" stroke="#4c4f59" text-anchor="start" font-weight="normal" textLength="50" lengthAdjust="spacingAndGlyphs" stroke-width="0.22">3,600.00</text>
<text x="1464.2" y="222.2" font-size="12" fill="#4c4f59" stroke="#4c4f59" text-anchor="start" font-weight="normal" textLength="50" lengthAdjust="spacingAndGlyphs" stroke-width="0.22">3,700.00</text>
<text x="1464.2" y="186.54" font-size="12" fill="#4c4f59" stroke="#4c4f59" text-anchor="start" font-weight="normal" textLength="50" lengthAdjust="spacingAndGlyphs" stroke-width="0.22">3,800.00</text>
<text x="1464.2" y="150.88" font-size="12" fill="#4c4f59" stroke="#4c4f59" text-anchor="start" font-weight="normal" textLength="50" lengthAdjust="spacingAndGlyphs" stroke-width="0.22">3,900.00</text>
<text x="1464.2" y="115.22" font-size="12" fill="#4c4f59" stroke="#4c4f59" text-anchor="start" font-weight="normal" textLength="50" lengthAdjust="spacingAndGlyphs" stroke-width="0.22">4,000.00</text>
<text x="1464.2" y="79.56" font-size="12" fill="#4c4f59" stroke="#4c4f59" text-anchor="start" font-weight="normal" textLength="50" lengthAdjust="spacingAndGlyphs" stroke-width="0.22">4,100.00</text>
<text x="1464.2" y="43.9" font-size="12" fill="#4c4f59" stroke="#4c4f59" text-anchor="start" font-weight="normal" textLength="50" lengthAdjust="spacingAndGlyphs" stroke-width="0.22">4,200.00</text>
<path d="M1455 110.5H1518.4Q1520.4 110.5 1520.4 112.5V126.1Q1520.4 128.1 1518.4 128.1H1455Z" fill="#000"/>
<text x="1465.5" y="123.15" font-size="12" fill="#f0f0f0" stroke="#f0f0f0" text-anchor="start" font-weight="normal" textLength="50" lengthAdjust="spacingAndGlyphs" stroke-width="0">3,980.40</text>
<path d="M1455 221.2H1518.4Q1520.4 221.2 1520.4 223.2V236.8Q1520.4 238.8 1518.4 238.8H1455Z" fill="#000"/>
<text x="1465.5" y="233.85" font-size="12" fill="#f0f0f0" stroke="#f0f0f0" text-anchor="start" font-weight="normal" textLength="50" lengthAdjust="spacingAndGlyphs" stroke-width="0">3,669.64</text>
<path d="M1455 252.85H1518.4Q1520.4 252.85 1520.4 254.85V268.45Q1520.4 270.45 1518.4 270.45H1455Z" fill="#000"/>
<text x="1465.5" y="265.5" font-size="12" fill="#f0f0f0" stroke="#f0f0f0" text-anchor="start" font-weight="normal" textLength="50" lengthAdjust="spacingAndGlyphs" stroke-width="0">3,582.00</text>
<path d="M1455 296.15H1518.4Q1520.4 296.15 1520.4 298.15V311.75Q1520.4 313.75 1518.4 313.75H1455Z" fill="#000"/>
<text x="1465.5" y="308.8" font-size="12" fill="#f0f0f0" stroke="#f0f0f0" text-anchor="start" font-weight="normal" textLength="50" lengthAdjust="spacingAndGlyphs" stroke-width="0">3,459.95</text>
<path d="M1455 531.55H1518.4Q1520.4 531.55 1520.4 533.55V547.15Q1520.4 549.15 1518.4 549.15H1455Z" fill="#000"/>
<text x="1465.5" y="544.2" font-size="12" fill="#f0f0f0" stroke="#f0f0f0" text-anchor="start" font-weight="normal" textLength="50" lengthAdjust="spacingAndGlyphs" stroke-width="0">2,800.00</text>
<path d="M1455 456H1518.4Q1520.4 456 1520.4 458V489.6H1455Z" fill="#f23645"/>
<text x="1465.7" y="469.1" font-size="12" fill="#fdeaec" stroke="#fdeaec" text-anchor="start" font-weight="normal" textLength="50" lengthAdjust="spacingAndGlyphs">3,011.06</text>
<text x="1466.3" y="484.2" font-size="12" fill="#fde0e3" stroke="#fde0e3" text-anchor="start" font-weight="normal" textLength="49.2" lengthAdjust="spacingAndGlyphs">12:14:17</text>
<path d="M1455 489.6H1520.4V504.8Q1520.4 506.8 1518.4 506.8H1455Z" fill="#000"/>
<text x="1465.5" y="502.1" font-size="12" fill="#f0f0f0" stroke="#f0f0f0" text-anchor="start" font-weight="normal" textLength="50" lengthAdjust="spacingAndGlyphs" stroke-width="0">3,000.00</text>
</g>
<g id="taxis">
<text x="89.5" y="608.4" font-size="12" fill="#2a2e39" stroke="#2a2e39" text-anchor="middle" font-weight="normal">12</text>
<text x="240.3" y="608.4" font-size="12" fill="#131722" stroke="#131722" text-anchor="middle" font-weight="bold" stroke-width="0">Mar</text>
<text x="382.5" y="608.4" font-size="12" fill="#2a2e39" stroke="#2a2e39" text-anchor="middle" font-weight="normal">18</text>
<text x="499.5" y="608.4" font-size="12" fill="#131722" stroke="#131722" text-anchor="middle" font-weight="bold" stroke-width="0">Apr</text>
<text x="616.8" y="608.4" font-size="12" fill="#2a2e39" stroke="#2a2e39" text-anchor="middle" font-weight="normal">15</text>
<text x="750.5" y="608.4" font-size="12" fill="#131722" stroke="#131722" text-anchor="middle" font-weight="bold" stroke-width="0">May</text>
<text x="851" y="608.4" font-size="12" fill="#2a2e39" stroke="#2a2e39" text-anchor="middle" font-weight="normal">13</text>
<text x="1010" y="608.4" font-size="12" fill="#131722" stroke="#131722" text-anchor="middle" font-weight="bold" stroke-width="0">Jun</text>
<text x="1144.4" y="608.4" font-size="12" fill="#2a2e39" stroke="#2a2e39" text-anchor="middle" font-weight="normal">17</text>
<text x="1261.4" y="608.4" font-size="12" fill="#131722" stroke="#131722" text-anchor="middle" font-weight="bold" stroke-width="0">Jul</text>
<text x="1378.7" y="608.4" font-size="12" fill="#2a2e39" stroke="#2a2e39" text-anchor="middle" font-weight="normal">15</text>
</g>
<rect x="11.1" y="28.5" width="1513.9" height="589.9" fill="none" stroke="#ebedf2" stroke-width="1.6"/>
<g id="logo" fill="#131722">
<path d="M11.2 631.9H19.3V642.1H15.2V636.2H11.2Z"/>
<circle cx="22.75" cy="634.25" r="2.25"/>
<path d="M26.9 631.9H31.9L27.9 642.1H22.9Z"/>
<text x="35.6" y="642.1" font-size="13.2" fill="#262934" stroke="#262934" text-anchor="start" font-weight="normal" textLength="74.6" lengthAdjust="spacingAndGlyphs" stroke-width="0.1">TradingView</text>
</g>
</svg>
</body></html>
